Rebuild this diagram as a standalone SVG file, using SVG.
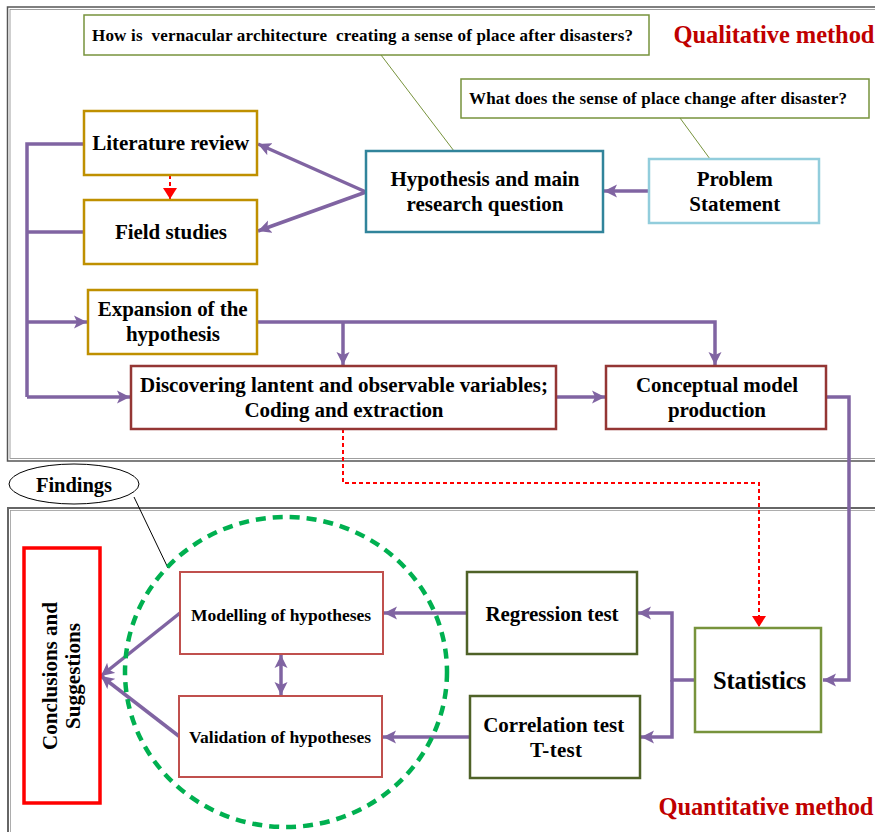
<svg xmlns="http://www.w3.org/2000/svg" width="875" height="832" viewBox="0 0 875 832">
<style>
text{font-family:"Liberation Serif","Times New Roman",serif;font-weight:bold;fill:#000;text-anchor:middle}
.q{font-size:17px}
.b{font-size:21px}
.m{font-size:17.5px}
.red{fill:#C00000;font-size:24.5px}
.box{fill:#fff}
.pl{fill:none;stroke:#8064A2;stroke-width:3.5}
.rd{fill:none;stroke:#FF0000;stroke-width:2;stroke-dasharray:4,3}
.thin{fill:none;stroke:#77933C;stroke-width:1}
</style>
<defs>
<marker id="pa" markerUnits="userSpaceOnUse" markerWidth="14" markerHeight="14" viewBox="0 0 14 14" refX="13" refY="7" orient="auto"><path d="M0,0.5 L13,7 L0,13.5 L3,7 Z" fill="#8064A2"/></marker>
<marker id="pas" markerUnits="userSpaceOnUse" markerWidth="14" markerHeight="14" viewBox="0 0 14 14" refX="13" refY="7" orient="auto-start-reverse"><path d="M0,0.5 L13,7 L0,13.5 L3,7 Z" fill="#8064A2"/></marker>
<marker id="ra" markerUnits="userSpaceOnUse" markerWidth="12" markerHeight="14" viewBox="0 0 12 14" refX="11" refY="7" orient="auto"><path d="M0,0 L11,7 L0,14 Z" fill="#FF0000"/></marker>
</defs>
<g id="frames">
<rect x="7.5" y="7" width="880" height="454" fill="none" stroke="#555" stroke-width="1.5"/>
<rect x="10" y="9.5" width="880" height="449" fill="none" stroke="#888" stroke-width="0.8"/>
<rect x="8" y="508" width="880" height="340" fill="none" stroke="#666" stroke-width="2"/>
<rect x="10.5" y="510.5" width="880" height="340" fill="none" stroke="#999" stroke-width="0.8"/>
</g>
<g id="labels">
<text class="red" x="774" y="43.3" textLength="201">Qualitative method</text>
<text class="red" x="766" y="815" textLength="215">Quantitative method</text>
</g>
<g id="connectors">
<line class="thin" x1="381" y1="55" x2="454" y2="151"/>
<line class="thin" x1="680" y1="118" x2="710" y2="159"/>
<line x1="134" y1="497" x2="168" y2="568" stroke="#000" stroke-width="1"/>
<path class="pl" d="M649,191 H604" marker-end="url(#pa)"/>
<path class="pl" d="M366,192 L258,144" marker-end="url(#pa)"/>
<path class="pl" d="M366,192 L258,231" marker-end="url(#pa)"/>
<path class="rd" d="M170,175 V199" marker-end="url(#ra)"/>
<path class="pl" d="M84,144 H27 V397"/>
<path class="pl" d="M84,232 H27"/>
<path class="pl" d="M27,322 H87" marker-end="url(#pa)"/>
<path class="pl" d="M27,397 H130" marker-end="url(#pa)"/>
<path class="pl" d="M257,322 H715 V365" marker-end="url(#pa)"/>
<path class="pl" d="M343,322 V365" marker-end="url(#pa)"/>
<path class="pl" d="M556,397 H605" marker-end="url(#pa)"/>
<path class="pl" d="M826,397 H849 V680 H823" marker-end="url(#pa)"/>
<path class="rd" d="M343,429 V483 H759 V627" marker-end="url(#ra)"/>
<path class="pl" d="M695,680 H672 V613 H638" marker-end="url(#pa)"/>
<path class="pl" d="M672,680 V737 H641" marker-end="url(#pa)"/>
<path class="pl" d="M467,613 H384" marker-end="url(#pa)"/>
<path class="pl" d="M470,737 H383" marker-end="url(#pa)"/>
<path class="pl" d="M281,655 V695" marker-start="url(#pas)" marker-end="url(#pa)"/>
<path class="pl" d="M180,613 L101,676" marker-end="url(#pa)"/>
<path class="pl" d="M180,737 L101,676" marker-end="url(#pa)"/>
</g>
<g id="findings-circle">
<ellipse cx="286" cy="672" rx="161" ry="155" fill="none" stroke="#00B050" stroke-width="4.5" stroke-dasharray="10,7"/>
</g>
<g id="q1"><rect x="84" y="15" width="565" height="40" class="box" stroke="#77933C" stroke-width="1.5"/><text class="q" x="362.5" y="40.7" textLength="541" style="white-space:pre">How is  vernacular architecture  creating a sense of place after disasters?</text></g>
<g id="q2"><rect x="461" y="79" width="408" height="39" class="box" stroke="#77933C" stroke-width="1.5"/><text class="q" x="658" y="104" textLength="378">What does the sense of place change after disaster?</text></g>
<g id="hypothesis"><rect x="366" y="151" width="237" height="81" class="box" stroke="#31849B" stroke-width="2.5"/><text class="b" x="485" y="185.7" textLength="189">Hypothesis and main</text><text class="b" x="485" y="210.7" textLength="157">research question</text></g>
<g id="problem"><rect x="649" y="159" width="170" height="64" class="box" stroke="#92CDDC" stroke-width="2.5"/><text class="b" x="734.7" y="185.7" textLength="76">Problem</text><text class="b" x="734.7" y="210.7" textLength="91">Statement</text></g>
<g id="literature"><rect x="84" y="111" width="173" height="64" class="box" stroke="#BF9000" stroke-width="2.5"/><text class="b" x="170.7" y="150" textLength="157">Literature review</text></g>
<g id="field"><rect x="84" y="200" width="173" height="64" class="box" stroke="#BF9000" stroke-width="2.5"/><text class="b" x="171" y="239" textLength="112">Field studies</text></g>
<g id="expansion"><rect x="88" y="290" width="169" height="64" class="box" stroke="#BF9000" stroke-width="2.5"/><text class="b" x="172.7" y="315.7" textLength="150">Expansion of the</text><text class="b" x="173" y="341" textLength="94">hypothesis</text></g>
<g id="discovering"><rect x="131" y="366" width="425" height="63" class="box" stroke="#943634" stroke-width="2.5"/><text class="b" x="344" y="391.7" textLength="408">Discovering lantent and observable variables;</text><text class="b" x="344" y="416.7" textLength="199">Coding and extraction</text></g>
<g id="conceptual"><rect x="606" y="366" width="220" height="63" class="box" stroke="#943634" stroke-width="2.5"/><text class="b" x="717" y="391.7" textLength="162">Conceptual model</text><text class="b" x="717" y="416.7" textLength="98">production</text></g>
<g id="statistics"><rect x="695" y="628" width="126" height="104" class="box" stroke="#77933C" stroke-width="2.5"/><text x="759.5" y="689" style="font-size:24.5px" textLength="93">Statistics</text></g>
<g id="regression"><rect x="467" y="572" width="170" height="82" class="box" stroke="#4F6228" stroke-width="2.5"/><text class="b" x="552" y="621" textLength="133">Regression test</text></g>
<g id="correlation"><rect x="470" y="696" width="170" height="82" class="box" stroke="#4F6228" stroke-width="2.5"/><text class="b" x="553.7" y="731.7" textLength="141">Correlation test</text><text class="b" x="556" y="756.7" textLength="52">T-test</text></g>
<g id="modelling"><rect x="180" y="572" width="203" height="82" fill="#fff" stroke="#C0504D" stroke-width="2"/><text class="m" x="281" y="621" textLength="180">Modelling of hypotheses</text></g>
<g id="validation"><rect x="179" y="696" width="203" height="81" fill="#fff" stroke="#C0504D" stroke-width="2"/><text class="m" x="280" y="743.3" textLength="182">Validation of hypotheses</text></g>
<g id="conclusions"><rect x="24" y="548" width="76" height="255" class="box" stroke="#FF0000" stroke-width="3.5"/><text class="b" transform="translate(62,676) rotate(-90)" x="0" y="-5" textLength="148">Conclusions and</text><text class="b" transform="translate(62,676) rotate(-90)" x="0" y="18" textLength="106">Suggestions</text></g>
<g id="findings"><ellipse cx="74" cy="484" rx="65" ry="20" fill="#fff" stroke="#000" stroke-width="1"/><text x="74" y="491.7" style="font-size:20.5px" textLength="76">Findings</text></g>
</svg>
